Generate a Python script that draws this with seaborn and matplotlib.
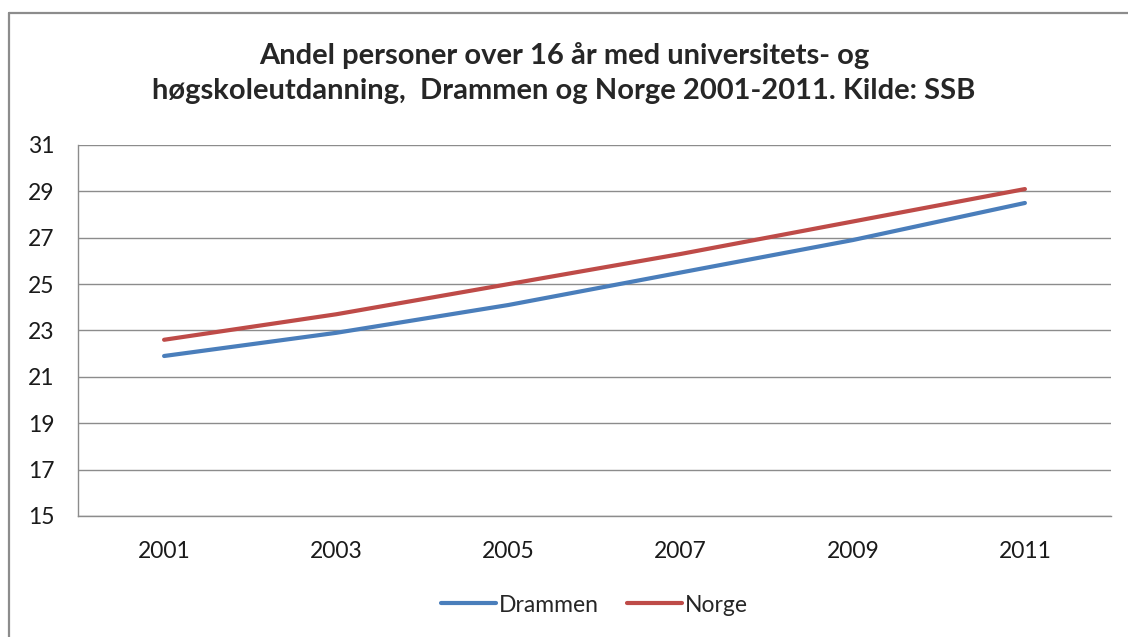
import pandas as pd
import matplotlib.pyplot as plt
import seaborn as sns
from matplotlib.lines import Line2D

# Data
years = ['2001', '2003', '2005', '2007', '2009', '2011']
drammen = [21.9, 22.9, 24.1, 25.5, 26.9, 28.5]
norge = [22.6, 23.7, 25.0, 26.3, 27.7, 29.1]
y_ticks = [15, 17, 19, 21, 23, 25, 27, 29, 31]

df = pd.DataFrame({'År': years * 2,
                   'Andel': drammen + norge,
                   'Område': ['Drammen'] * len(years) + ['Norge'] * len(years)})

sns.set_style("white")
plt.rcParams['font.family'] = ['Lato', 'DejaVu Sans']

fig = plt.figure(figsize=(11.28, 6.37), dpi=100)
ax = fig.add_axes([78 / 1128, 1 - 516 / 637, (1111 - 78) / 1128, (516 - 145) / 637])

# Ramme rundt diagrammet (venstre og topp synlig)
x0, y0 = 9 / 1128, 1 - 13 / 637
fig.add_artist(Line2D([x0, x0], [-0.05, y0], transform=fig.transFigure,
                      color='#8c8c8c', linewidth=1.6))
fig.add_artist(Line2D([x0, 1.05], [y0, y0], transform=fig.transFigure,
                      color='#8c8c8c', linewidth=1.6))

sns.lineplot(data=df, x='År', y='Andel', hue='Område',
             palette={'Drammen': '#4A7EBB', 'Norge': '#BE4B48'},
             linewidth=3, ax=ax, sort=False)

ax.set_xlim(-0.5, len(years) - 0.5)
ax.set_ylim(15, 31)
ax.set_yticks(y_ticks)
ax.grid(axis='y', color='#8c8c8c', linewidth=1)
ax.set_axisbelow(True)
for side in ['top', 'right']:
    ax.spines[side].set_visible(False)
for side in ['left', 'bottom']:
    ax.spines[side].set_color('#8c8c8c')
    ax.spines[side].set_linewidth(1)
ax.tick_params(axis='both', length=0, labelsize=16.5, colors='#1a1a1a')
ax.tick_params(axis='y', pad=17)
ax.tick_params(axis='x', pad=18)
ax.set_xlabel('')
ax.set_ylabel('')

fig.text(0.5, 1 - 73 / 637,
         'Andel personer over 16 år med universitets- og\n'
         'høgskoleutdanning,  Drammen og Norge 2001-2011. Kilde: SSB',
         ha='center', va='center', fontsize=21, fontweight='bold',
         linespacing=1.42)

ax.legend(loc='center', bbox_to_anchor=(0.5, (516 - 605) / (516 - 145)),
          ncol=2, frameon=False, fontsize=16.5, handlelength=2.4,
          handletextpad=0.15, columnspacing=1.2)

fig.savefig('out.png', dpi=100)
